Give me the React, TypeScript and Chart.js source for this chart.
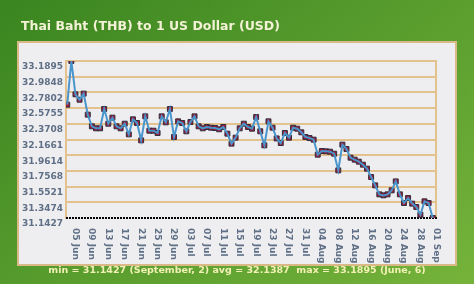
import React, { useEffect, useRef } from 'react';
import { Chart, registerables } from 'chart.js';
Chart.register(...registerables);

const categories = [
  '05 Jun','06 Jun','07 Jun','08 Jun','09 Jun','10 Jun','11 Jun','12 Jun','13 Jun','14 Jun',
  '15 Jun','16 Jun','17 Jun','18 Jun','19 Jun','20 Jun','21 Jun','22 Jun','23 Jun','24 Jun',
  '25 Jun','26 Jun','27 Jun','28 Jun','29 Jun','30 Jun','01 Jul','02 Jul','03 Jul','04 Jul',
  '05 Jul','06 Jul','07 Jul','08 Jul','09 Jul','10 Jul','11 Jul','12 Jul','13 Jul','14 Jul',
  '15 Jul','16 Jul','17 Jul','18 Jul','19 Jul','20 Jul','21 Jul','22 Jul','23 Jul','24 Jul',
  '25 Jul','26 Jul','27 Jul','28 Jul','29 Jul','30 Jul','31 Jul','01 Aug','02 Aug','03 Aug',
  '04 Aug','05 Aug','06 Aug','07 Aug','08 Aug','09 Aug','10 Aug','11 Aug','12 Aug','13 Aug',
  '14 Aug','15 Aug','16 Aug','17 Aug','18 Aug','19 Aug','20 Aug','21 Aug','22 Aug','23 Aug',
  '24 Aug','25 Aug','26 Aug','27 Aug','28 Aug','29 Aug','30 Aug','31 Aug','01 Sep','02 Sep'
];

const rates = [
  32.620, 33.1895, 32.755, 32.685, 32.764, 32.490, 32.338, 32.312, 32.312, 32.564,
  32.372, 32.451, 32.338, 32.312, 32.372, 32.233, 32.429, 32.381, 32.155, 32.468,
  32.281, 32.281, 32.251, 32.468, 32.390, 32.564, 32.199, 32.403, 32.381, 32.273,
  32.394, 32.468, 32.338, 32.312, 32.329, 32.320, 32.316, 32.299, 32.329, 32.242,
  32.112, 32.190, 32.312, 32.372, 32.329, 32.307, 32.459, 32.273, 32.090, 32.403,
  32.320, 32.180, 32.120, 32.251, 32.190, 32.320, 32.307, 32.260, 32.199, 32.185,
  32.164, 31.968, 32.016, 32.012, 32.007, 31.981, 31.764, 32.099, 32.042, 31.929,
  31.903, 31.877, 31.838, 31.786, 31.677, 31.568, 31.451, 31.438, 31.451, 31.503,
  31.620, 31.451, 31.338, 31.403, 31.330, 31.286, 31.186, 31.360, 31.338, 31.1427
];

const yTicks = [31.1427, 31.3474, 31.5521, 31.7568, 31.9614, 32.1661, 32.3708, 32.5755, 32.7802, 32.9848, 33.1895];

const xTickLabels = [
  '05 Jun','09 Jun','13 Jun','17 Jun','21 Jun','25 Jun','29 Jun','03 Jul','07 Jul','11 Jul','15 Jul','19 Jul',
  '23 Jul','27 Jul','31 Jul','04 Aug','08 Aug','12 Aug','16 Aug','20 Aug','24 Aug','28 Aug','01 Sep'
];

const titleText = 'Thai Baht (THB) to 1 US Dollar (USD)';
const summaryText = 'min = 31.1427 (September, 2) avg = 32.1387  max = 33.1895 (June, 6)';

const TAN = '#e3c28e';
const FONT = '"DejaVu Sans", Verdana, sans-serif';

export default function App() {
  const ref = useRef<HTMLCanvasElement | null>(null);
  useEffect(() => {
    document.body.style.margin = '0';
    const canvas = ref.current!;
    const deco = {
      id: 'deco',
      beforeDraw(chart: any) {
        const ctx = chart.ctx;
        ctx.save();
        const g = ctx.createLinearGradient(0, 0, 300, 400);
        g.addColorStop(0, '#3a8520');
        g.addColorStop(1, '#74b23a');
        ctx.fillStyle = g;
        ctx.fillRect(0, 0, 474, 284);
        ctx.fillStyle = '#d9b985';
        ctx.fillRect(17, 41, 440, 225);
        ctx.fillStyle = '#eeeef1';
        ctx.fillRect(19, 43, 436, 221);
        ctx.fillStyle = '#f3f2d6';
        ctx.font = 'bold 12.5px ' + FONT;
        ctx.textBaseline = 'middle';
        ctx.textAlign = 'left';
        ctx.fillText(titleText, 21, 27);
        ctx.fillStyle = '#f2f0b4';
        ctx.font = 'bold 9.5px ' + FONT;
        ctx.textAlign = 'center';
        ctx.fillText(summaryText, 237, 271);
        ctx.restore();
      },
      beforeDatasetsDraw(chart: any) {
        const ctx = chart.ctx;
        const ca = chart.chartArea;
        ctx.save();
        ctx.strokeStyle = '#000000';
        ctx.lineWidth = 2;
        ctx.setLineDash([2, 1]);
        ctx.beginPath();
        ctx.moveTo(ca.left, ca.bottom);
        ctx.lineTo(ca.right + 1, ca.bottom);
        ctx.stroke();
        ctx.setLineDash([]);
        ctx.strokeStyle = TAN;
        ctx.beginPath();
        ctx.moveTo(ca.right, ca.top - 1);
        ctx.lineTo(ca.right, ca.bottom - 1);
        ctx.stroke();
        ctx.restore();
      },
      afterDraw(chart: any) {
        const ctx = chart.ctx;
        const xs = chart.scales.x;
        ctx.save();
        ctx.fillStyle = '#5f6f86';
        ctx.font = 'bold 9px ' + FONT;
        ctx.textAlign = 'left';
        ctx.textBaseline = 'middle';
        for (const lab of xTickLabels) {
          const idx = categories.indexOf(lab);
          const x = xs.getPixelForValue(idx) + 8;
          ctx.save();
          ctx.translate(x, 228);
          ctx.rotate(Math.PI / 2);
          ctx.fillText(lab, 0, 0);
          ctx.restore();
        }
        ctx.restore();
      }
    };
    const pts = rates.map((v, i) => ({ x: i, y: v }));
    const chart = new Chart(canvas, {
      type: 'line',
      data: {
        datasets: [
          {
            data: pts,
            borderColor: '#4a95cc',
            borderWidth: 2,
            pointRadius: 0,
            tension: 0,
            fill: false,
          },
          {
            data: pts,
            showLine: false,
            pointStyle: 'rect',
            pointRadius: 3.5,
            pointBackgroundColor: '#a31a36',
            pointBorderColor: '#2e2e40',
            pointBorderWidth: 1,
          },
        ],
      },
      options: {
        animation: false,
        responsive: false,
        devicePixelRatio: 1,
        events: [],
        layout: { padding: { left: 0, right: 38, top: 61, bottom: 0 } },
        plugins: { legend: { display: false }, tooltip: { enabled: false } },
        scales: {
          x: {
            type: 'linear',
            min: -0.3,
            max: 89.8,
            ticks: { display: false },
            grid: { display: false, drawTicks: false },
            border: { display: false },
            afterFit: (s: any) => { s.height = 66; },
          },
          y: {
            min: 31.1427,
            max: 33.1895,
            afterBuildTicks: (s: any) => { s.ticks = yTicks.map((v) => ({ value: v })); },
            ticks: {
              callback: (_v: any, i: number) => yTicks[i].toFixed(4),
              color: '#5f6f86',
              font: { family: FONT, size: 9, weight: 'bold' },
              padding: 3,
              labelOffset: 6,
              autoSkip: false,
            },
            grid: {
              color: (c: any) => (c.index === 0 ? 'rgba(0,0,0,0)' : TAN),
              lineWidth: 2,
              drawTicks: false,
            },
            border: { display: true, color: TAN, width: 2 },
            afterFit: (s: any) => { s.width = 66; },
          },
        },
      },
      plugins: [deco],
    } as any);
    return () => chart.destroy();
  }, []);
  return <canvas ref={ref} width={474} height={284} style={{ display: 'block' }} />;
}
